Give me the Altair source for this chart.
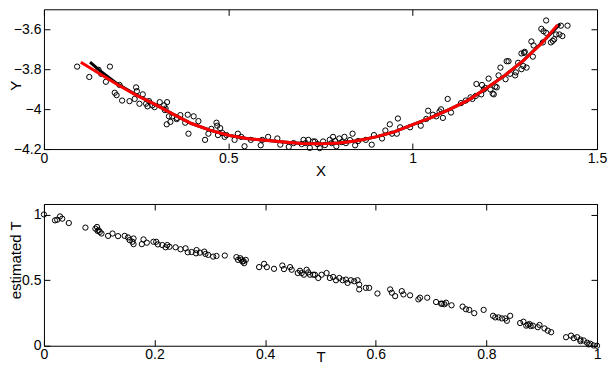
import altair as alt
import pandas as pd

# ---------------- top panel: X vs Y scatter ----------------
top_x = [0.090, 0.123, 0.179, 0.148, 0.155, 0.168, 0.205, 0.192, 0.197, 0.212,
         0.232, 0.250, 0.252, 0.268, 0.246, 0.259, 0.277, 0.281, 0.294, 0.314,
         0.326, 0.334, 0.330, 0.333, 0.343, 0.348, 0.361, 0.383, 0.390, 0.392,
         0.328, 0.339, 0.406, 0.419, 0.437, 0.446, 0.454, 0.468, 0.470, 0.472,
         0.490, 0.526, 0.517, 0.544, 0.561, 0.588, 0.608, 0.633, 0.641, 0.664,
         0.677, 0.699, 0.717, 0.735, 0.704, 0.721, 0.730, 0.748, 0.757, 0.775,
         0.784, 0.793, 0.801, 0.815, 0.819, 0.837, 0.844, 0.873, 0.889, 0.895,
         0.917, 0.926, 0.938, 0.944, 0.957, 0.960, 0.966, 0.993, 1.022, 1.037,
         1.042, 1.055, 1.064, 1.073, 1.077, 1.082, 1.095, 1.104, 1.131, 1.144,
         1.162, 1.171, 1.173, 1.188, 1.193, 1.206, 1.211, 1.217, 1.224, 1.233,
         1.238, 1.252, 1.255, 1.264, 1.278, 1.286, 1.295, 1.295, 1.304, 1.309,
         1.322, 1.326, 1.349, 1.353, 1.362, 1.362, 1.375, 1.384, 1.389, 1.402,
         1.406, 1.420, 0.495, 0.535, 0.592, 0.360, 0.370, 0.478, 0.484, 0.710,
         0.742, 0.762, 0.780, 0.790, 0.808, 0.830, 0.852, 0.285, 0.300, 1.197,
         1.220, 1.228, 1.260, 1.280, 1.300, 1.302, 1.328, 1.355, 1.380, 1.398,
         1.157, 1.186]
top_y = [-3.787, -3.839, -3.787, -3.803, -3.823, -3.863, -3.879, -3.918, -3.930, -3.957,
         -3.960, -3.891, -3.910, -3.926, -3.949, -3.973, -3.973, -3.986, -3.981, -3.965,
         -3.981, -3.965, -3.997, -4.076, -4.064, -4.036, -4.044, -4.068, -4.028, -4.123,
         -4.005, -4.036, -4.036, -4.060, -4.154, -4.123, -4.099, -4.068, -4.083, -4.130,
         -4.139, -4.123, -4.154, -4.186, -4.154, -4.181, -4.139, -4.147, -4.178, -4.189,
         -4.170, -4.175, -4.154, -4.162, -4.154, -4.194, -4.162, -4.195, -4.162, -4.154,
         -4.139, -4.186, -4.147, -4.139, -4.170, -4.123, -4.181, -4.154, -4.178, -4.130,
         -4.147, -4.107, -4.076, -4.123, -4.123, -4.047, -4.091, -4.091, -4.083, -4.049,
         -4.008, -4.028, -4.036, -4.012, -4.001, -4.044, -3.949, -4.017, -3.970, -3.957,
         -3.949, -3.934, -3.874, -3.879, -3.902, -3.847, -3.902, -3.922, -3.887, -3.831,
         -3.792, -3.850, -3.760, -3.823, -3.831, -3.768, -3.800, -3.721, -3.713, -3.792,
         -3.661, -3.737, -3.598, -3.666, -3.556, -3.618, -3.666, -3.650, -3.626, -3.582,
         -3.634, -3.582, -4.130, -4.139, -4.154, -4.050, -4.030, -4.095, -4.120, -4.170,
         -4.175, -4.180, -4.170, -4.160, -4.165, -4.155, -4.160, -3.960, -3.990, -3.894,
         -3.926, -3.891, -3.760, -3.816, -3.784, -3.718, -3.681, -3.610, -3.658, -3.626,
         -3.941, -3.926]

# fitted curves
red_x = [0.10, 0.15, 0.20, 0.25, 0.30, 0.35, 0.40, 0.45, 0.50, 0.55, 0.60, 0.65, 0.70, 0.75,
         0.80, 0.85, 0.90, 0.95, 1.00, 1.05, 1.10, 1.15, 1.20, 1.25, 1.30, 1.35, 1.393]
red_y = [-3.765, -3.822, -3.878, -3.930, -3.975, -4.025, -4.072, -4.105, -4.131, -4.147,
         -4.156, -4.165, -4.172, -4.174, -4.170, -4.158, -4.139, -4.114, -4.078, -4.043,
         -4.001, -3.956, -3.895, -3.831, -3.757, -3.670, -3.578]
black_x = [0.125, 0.15, 0.20, 0.25, 0.30, 0.35, 0.40, 0.45, 0.50, 0.55, 0.60, 0.65, 0.70, 0.75,
           0.80, 0.85, 0.90, 0.95, 1.00, 1.05, 1.10, 1.15, 1.20, 1.25, 1.30, 1.35, 1.40]
black_y = [-3.765, -3.805, -3.875, -3.928, -3.975, -4.025, -4.072, -4.105, -4.131, -4.147,
           -4.156, -4.165, -4.172, -4.174, -4.170, -4.158, -4.139, -4.114, -4.078, -4.043,
           -4.001, -3.956, -3.895, -3.831, -3.757, -3.668, -3.573]

# ---------------- bottom panel: T vs estimated T ----------------
bot_t = [0.000, 0.020, 0.024, 0.029, 0.033, 0.045, 0.075, 0.093, 0.096, 0.097,
         0.101, 0.104, 0.116, 0.124, 0.134, 0.146, 0.152, 0.155, 0.160, 0.162,
         0.162, 0.177, 0.180, 0.186, 0.198, 0.203, 0.206, 0.214, 0.220, 0.223,
         0.227, 0.238, 0.247, 0.256, 0.260, 0.267, 0.275, 0.276, 0.282, 0.290,
         0.292, 0.297, 0.306, 0.312, 0.327, 0.348, 0.351, 0.355, 0.359, 0.365,
         0.362, 0.389, 0.398, 0.403, 0.416, 0.431, 0.434, 0.445, 0.448, 0.459,
         0.463, 0.470, 0.478, 0.487, 0.466, 0.475, 0.481, 0.490, 0.496, 0.502,
         0.511, 0.517, 0.523, 0.528, 0.534, 0.540, 0.546, 0.549, 0.555, 0.561,
         0.567, 0.570, 0.570, 0.582, 0.588, 0.603, 0.626, 0.629, 0.635, 0.647,
         0.650, 0.662, 0.677, 0.680, 0.693, 0.709, 0.718, 0.724, 0.727, 0.737,
         0.757, 0.763, 0.769, 0.778, 0.795, 0.812, 0.816, 0.822, 0.828, 0.834,
         0.837, 0.843, 0.861, 0.867, 0.872, 0.878, 0.884, 0.893, 0.896, 0.905,
         0.911, 0.917, 0.944, 0.953, 0.958, 0.964, 0.970, 0.976, 0.982, 0.988,
         0.994, 1.000, 0.099, 0.357, 0.361, 0.720, 0.875, 0.880, 0.970, 0.985]
bot_e = [1.000, 0.955, 0.960, 0.985, 0.968, 0.935, 0.900, 0.892, 0.905, 0.875,
         0.867, 0.855, 0.837, 0.855, 0.835, 0.837, 0.825, 0.805, 0.792, 0.817,
         0.774, 0.774, 0.810, 0.785, 0.792, 0.792, 0.772, 0.767, 0.750, 0.767,
         0.754, 0.750, 0.735, 0.742, 0.712, 0.714, 0.704, 0.729, 0.709, 0.717,
         0.699, 0.692, 0.679, 0.684, 0.687, 0.675, 0.654, 0.667, 0.641, 0.654,
         0.629, 0.599, 0.624, 0.599, 0.586, 0.611, 0.584, 0.599, 0.579, 0.554,
         0.571, 0.541, 0.559, 0.541, 0.554, 0.579, 0.541, 0.541, 0.516, 0.541,
         0.554, 0.516, 0.524, 0.499, 0.516, 0.499, 0.504, 0.479, 0.499, 0.491,
         0.499, 0.466, 0.429, 0.441, 0.441, 0.398, 0.429, 0.404, 0.378, 0.416,
         0.391, 0.384, 0.353, 0.366, 0.366, 0.333, 0.321, 0.316, 0.328, 0.308,
         0.298, 0.278, 0.273, 0.248, 0.273, 0.228, 0.216, 0.216, 0.208, 0.208,
         0.190, 0.228, 0.173, 0.183, 0.153, 0.165, 0.153, 0.141, 0.158, 0.132,
         0.115, 0.103, 0.065, 0.077, 0.058, 0.065, 0.047, 0.040, 0.023, 0.015,
         0.002, 0.000, 0.880, 0.655, 0.645, 0.320, 0.160, 0.150, 0.035, 0.010]

# tick values / titles
top_xticks = [0, 0.5, 1, 1.5]
top_yticks = [-4.2, -4, -3.8, -3.6]
bot_xticks = [0, 0.2, 0.4, 0.6, 0.8, 1]
bot_yticks = [0, 0.5, 1]

FONT = "Liberation Sans"
W = 554
H1 = 140
H2 = 142
TICK = alt.ExprRef(expr="-6")   # inward ticks
LABEL_EXPR = "replace(format(datum.value, '~g'), '-', '\u2212')"

top_pts = pd.DataFrame({"x": top_x, "y": top_y})
red_df = pd.DataFrame({"x": red_x, "y": red_y})
black_df = pd.DataFrame({"x": black_x, "y": black_y})
bot_pts = pd.DataFrame({"x": bot_t, "y": bot_e})


def main_axis_x(ticks, title, titleY):
    return alt.Axis(orient="bottom", values=ticks, labelExpr=LABEL_EXPR, title=title,
                    ticks=True, tickSize=TICK, tickColor="black", tickWidth=1,
                    domain=False, grid=False, labelFlush=False, labelOverlap=False,
                    labelPadding=8, labelFont=FONT, labelFontSize=14, labelColor="black",
                    titleFont=FONT, titleFontSize=15, titleFontWeight="normal", titleColor="black",
                    titleY=titleY, titleBaseline="middle")


def main_axis_y(ticks, title, titleX, titleY):
    return alt.Axis(orient="left", values=ticks, labelExpr=LABEL_EXPR, title=title,
                    ticks=True, tickSize=TICK, tickColor="black", tickWidth=1,
                    domain=False, grid=False, labelFlush=False, labelOverlap=False,
                    labelPadding=9, labelFont=FONT, labelFontSize=14, labelColor="black",
                    titleFont=FONT, titleFontSize=15, titleFontWeight="normal", titleColor="black",
                    titleX=titleX, titleY=titleY, titleBaseline="bottom", titleAngle=270)


def mirror_axis(orient, ticks):
    return alt.Axis(orient=orient, values=ticks, labels=False, title=None,
                    domain=False, grid=False, ticks=True, tickSize=TICK, tickColor="black",
                    tickWidth=1)


def panel(pts, xdom, ydom, xticks, yticks, xtitle, ytitle, H, xtitleY, ytitleX, ytitleY,
          lines):
    xs = alt.Scale(domain=xdom, nice=False, zero=False)
    ys = alt.Scale(domain=ydom, nice=False, zero=False)
    base_pts = alt.Chart(pts).mark_point(shape="circle", filled=False, color="black",
                                         size=28, strokeWidth=1, opacity=1).encode(
        x=alt.X("x:Q", scale=xs, axis=main_axis_x(xticks, xtitle, xtitleY)),
        y=alt.Y("y:Q", scale=ys, axis=main_axis_y(yticks, ytitle, ytitleX, ytitleY)),
    )
    layers = [base_pts]
    for i, (df, color, sw) in enumerate(lines):
        if i == 0:
            enc = dict(x=alt.X("x:Q", scale=xs, axis=mirror_axis("top", xticks)),
                       y=alt.Y("y:Q", scale=ys, axis=mirror_axis("right", yticks)))
        else:
            enc = dict(x=alt.X("x:Q", scale=xs, axis=None), y=alt.Y("y:Q", scale=ys, axis=None))
        layers.append(alt.Chart(df).mark_line(color=color, strokeWidth=sw).encode(**enc))
    if not lines:
        layers.append(alt.Chart(pts).mark_point(opacity=0, size=1).encode(
            x=alt.X("x:Q", scale=xs, axis=mirror_axis("top", xticks)),
            y=alt.Y("y:Q", scale=ys, axis=mirror_axis("right", yticks))))
    return alt.layer(*layers).resolve_axis(x="independent", y="independent").properties(
        width=W, height=H)


top = panel(top_pts, [0, 1.5], [-4.2, -3.5], top_xticks, top_yticks, "X", "Y", H1,
            21, -20, 76, [(black_df, "black", 3), (red_df, "#ff0000", 3)])
bottom = panel(bot_pts, [0, 1], [0, 1.08], bot_xticks, bot_yticks, "T", "estimated T", H2,
               11, -20, 56, [])

chart = alt.vconcat(top, bottom, spacing=24).properties(padding=0).configure(
    background="white", view=alt.ViewConfig(stroke="black", strokeWidth=1))

chart.save("out.html", embed_options={"renderer": "svg", "actions": False})
